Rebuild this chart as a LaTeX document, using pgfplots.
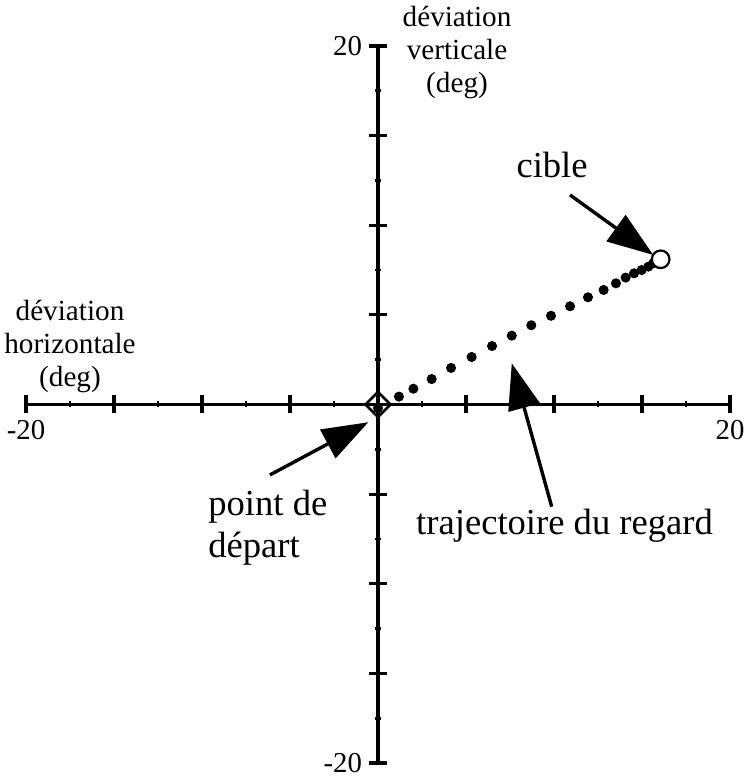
\documentclass[border=0pt]{standalone}
\usepackage{pgfplots}
\pgfplotsset{compat=1.18}
\usepackage{fontspec}
\setmainfont{Liberation Serif}
\usetikzlibrary{arrows.meta}

\newcommand{\bigfont}{\fontsize{18.3}{20}\selectfont}
\newcommand{\smallfont}{\fontsize{14.6}{16}\selectfont}

\begin{document}
\begin{tikzpicture}
  \begin{axis}[
      scale only axis,
      width=352pt, height=358.5pt,
      xmin=-20, xmax=20, ymin=-20, ymax=20,
      axis lines=middle,
      axis line style={-, line width=1.6pt},
      xtick={-20,-15,...,20},
      ytick={-20,-15,...,20},
      xticklabels={-20,,,,,,,,20},
      yticklabels={-20,,,,,,,,20},
      minor x tick num=1,
      minor y tick num=1,
      tick align=center,
      major tick length=9pt,
      minor tick length=3pt,
      major tick style={black, line width=1.6pt},
      minor tick style={black, line width=1.4pt},
      ticklabel style={font=\fontsize{14.4}{16}\selectfont},
      enlargelimits=false,
      clip=false,
    ]
    % trajectoire du regard
    \addplot[only marks, mark=*, mark size=2.3pt, black] coordinates {
      (0,-0.2) (1.19,0.44) (2.01,0.88) (3.05,1.42) (4.15,2.04) (5.32,2.65)
      (6.48,3.26) (7.60,3.84) (8.71,4.42) (9.83,4.95) (10.91,5.48)
      (11.93,5.98) (12.82,6.39) (13.52,6.76) (14.07,7.08) (14.55,7.32)
      (14.98,7.50) (15.36,7.69) (15.64,7.88) (15.85,8.00)
    };
    % point de depart
    \addplot[only marks, mark=square, mark size=4.4pt,
      mark options={rotate=45, line width=1.3pt, draw=black}] coordinates {(0,0)};
    % cible
    \addplot[only marks, mark=*, mark size=4.4pt,
      mark options={fill=white, draw=black, line width=1.1pt}] coordinates {(16.06,8.10)};

    % fleches
    \draw[line width=1.7pt, -{Triangle[length=23pt, width=16pt]}]
      (axis cs:10.91,11.69) -- (axis cs:15.64,8.34);
    \draw[line width=1.7pt, -{Triangle[length=23pt, width=16pt]}]
      (axis cs:-6.14,-3.93) -- (axis cs:-0.55,-0.99);
    \draw[line width=1.7pt, -{Triangle[length=23pt, width=16pt]}]
      (axis cs:9.87,-5.70) -- (axis cs:7.60,2.30);

    % textes
    \node[anchor=base, inner sep=0pt, font=\bigfont] at (axis cs:9.89,12.69) {cible};
    \node[anchor=base west, inner sep=0pt, font=\bigfont] at (axis cs:-9.66,-6.22) {point de};
    \node[anchor=base west, inner sep=0pt, font=\bigfont] at (axis cs:-9.66,-8.51) {départ};
    \node[anchor=base, inner sep=0pt, font=\bigfont] at (axis cs:10.6,-7.28) {trajectoire du regard};

    \node[anchor=base, inner sep=0pt, font=\smallfont] at (axis cs:4.49,21.06) {déviation};
    \node[anchor=base, inner sep=0pt, font=\smallfont] at (axis cs:4.49,19.22) {verticale};
    \node[anchor=base, inner sep=0pt, font=\smallfont] at (axis cs:4.49,17.43) {(deg)};

    \node[anchor=base, inner sep=0pt, font=\smallfont] at (axis cs:-17.5,4.66) {déviation};
    \node[anchor=base, inner sep=0pt, font=\smallfont] at (axis cs:-17.5,2.82) {horizontale};
    \node[anchor=base, inner sep=0pt, font=\smallfont] at (axis cs:-17.5,0.98) {(deg)};

    \coordinate (bl) at (axis cs:-21.477,-20.725);
    \coordinate (tr) at (axis cs:21.0,22.566);
  \end{axis}
  \pgfresetboundingbox
  \path[use as bounding box] (bl) rectangle (tr);
\end{tikzpicture}
\end{document}
